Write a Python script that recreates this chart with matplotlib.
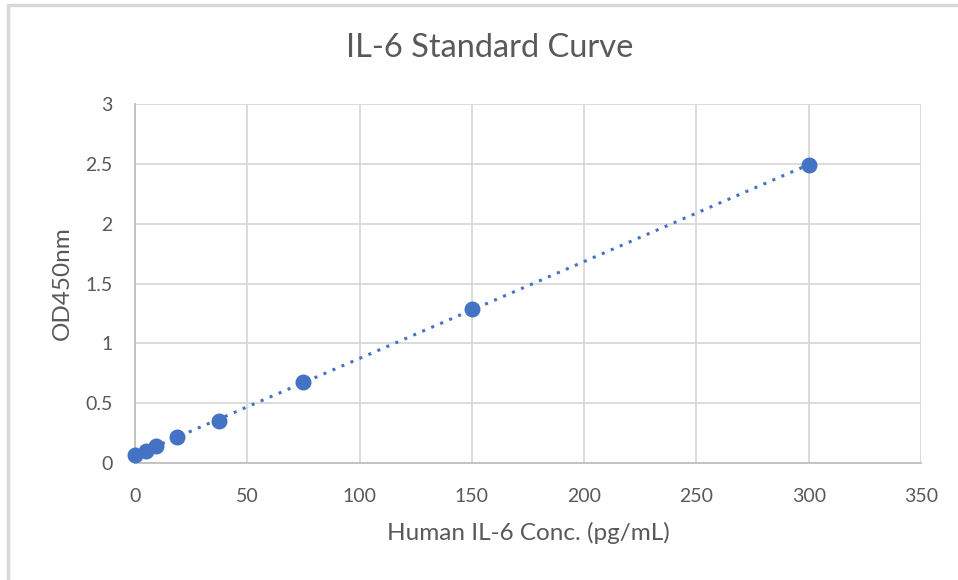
import numpy as np
import matplotlib.pyplot as plt
from matplotlib.patches import Rectangle

# IL-6 standards (pg/mL) and measured OD450
conc = [0, 4.69, 9.375, 18.75, 37.5, 75, 150, 300]
od450 = [0.07, 0.103, 0.142, 0.215, 0.351, 0.677, 1.287, 2.49]

x_ticks = [0, 50, 100, 150, 200, 250, 300, 350]
y_ticks = [0, 0.5, 1, 1.5, 2, 2.5, 3]
y_tick_labels = ['0', '0.5', '1', '1.5', '2', '2.5', '3']

text_color = '#595959'
grid_color = '#d9d9d9'
blue = '#4472c4'

plt.rcParams['font.family'] = ['Lato', 'DejaVu Sans']

fig = plt.figure(figsize=(9.58, 5.8), dpi=100)
ax = fig.add_axes([0.1409, 0.2017, 0.8205, 0.619])

# chart area border (Excel-style frame, cut off on right/bottom)
fig.patches.append(Rectangle((8 / 958, -0.05), 1.1, 1 - 5 / 580 + 0.05,
                             transform=fig.transFigure, fill=False,
                             edgecolor='#d9d9d9', linewidth=2.5))

# linear trendline
slope, intercept = np.polyfit(conc, od450, 1)
xs = np.array([min(conc), max(conc)])
ax.plot(xs, slope * xs + intercept, linestyle=(0, (1, 2.2)), color=blue,
        linewidth=2.2, zorder=2)
ax.scatter(conc, od450, s=110, color=blue, zorder=3, clip_on=False)

ax.set_xlim(0, 350)
ax.set_ylim(0, 3)
ax.set_xticks(x_ticks)
ax.set_yticks(y_ticks)
ax.set_yticklabels(y_tick_labels)
ax.grid(True, color=grid_color, linewidth=1.3)
ax.set_axisbelow(True)
ax.tick_params(length=0, labelsize=14, colors=text_color)
ax.tick_params(axis='x', pad=18)
ax.tick_params(axis='y', pad=16)

for side in ['top', 'right']:
    ax.spines[side].set_visible(False)
ax.spines['left'].set_color('#bfbfbf')
ax.spines['bottom'].set_color('#bfbfbf')
ax.spines['left'].set_linewidth(1.3)
ax.spines['bottom'].set_linewidth(1.3)

ax.set_xlabel('Human IL-6 Conc. (pg/mL)', fontsize=17.5, color=text_color, labelpad=12)
ax.set_ylabel('OD450nm', fontsize=17.5, color=text_color, labelpad=9)
fig.text(0.511, 0.917, 'IL-6 Standard Curve', fontsize=23.5, color=text_color,
         ha='center', va='center')

fig.savefig('out.png', dpi=100)
